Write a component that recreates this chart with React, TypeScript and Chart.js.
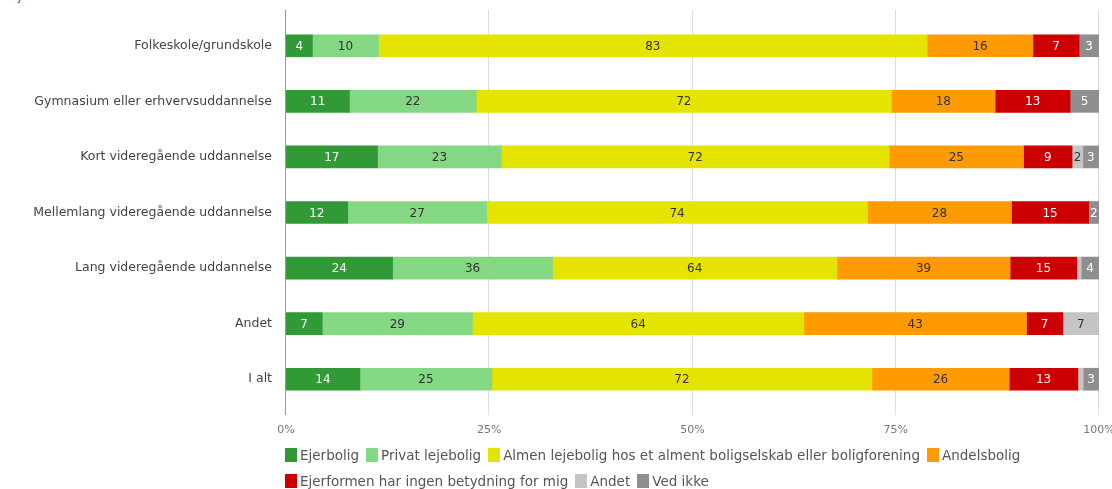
import React, { useEffect, useRef } from "react";
import { Chart, registerables } from "chart.js";

Chart.register(...registerables);

const categories = [
  "Folkeskole/grundskole",
  "Gymnasium eller erhvervsuddannelse",
  "Kort videregående uddannelse",
  "Mellemlang videregående uddannelse",
  "Lang videregående uddannelse",
  "Andet",
  "I alt",
];

const seriesNames = [
  "Ejerbolig",
  "Privat lejebolig",
  "Almen lejebolig hos et alment boligselskab eller boligforening",
  "Andelsbolig",
  "Ejerformen har ingen betydning for mig",
  "Andet",
  "Ved ikke",
];

const ejerbolig = [4, 11, 17, 12, 24, 7, 14];
const privatLejebolig = [10, 22, 23, 27, 36, 29, 25];
const almenLejebolig = [83, 72, 72, 74, 64, 64, 72];
const andelsbolig = [16, 18, 25, 28, 39, 43, 26];
const ingenBetydning = [7, 13, 9, 15, 15, 7, 13];
const andet = [0, 0, 2, 0, 1, 7, 1];
const vedIkke = [3, 5, 3, 2, 4, 0, 3];

const xTicks = ["0%", "25%", "50%", "75%", "100%"];

const colors = ["#319a37", "#84d884", "#e5e400", "#ff9a00", "#cc0000", "#c4c4c4", "#8e8e8e"];
const labelColors = ["#ffffff", "#333333", "#333333", "#333333", "#ffffff", "#333333", "#ffffff"];

const allSeries = [ejerbolig, privatLejebolig, almenLejebolig, andelsbolig, ingenBetydning, andet, vedIkke];

const FONT = "'DejaVu Sans', Verdana, sans-serif";

const gridPlugin = {
  id: "extGrid",
  beforeDatasetsDraw(chart: any) {
    const { ctx, chartArea, scales } = chart;
    const xs = scales.x;
    ctx.save();
    [0, 25, 50, 75, 100].forEach((v) => {
      const x = Math.round(xs.getPixelForValue(v)) - 0.5;
      ctx.strokeStyle = v === 0 ? "#9a9a9a" : "#dddddd";
      ctx.lineWidth = 1;
      ctx.beginPath();
      ctx.moveTo(x, chartArea.top - 8);
      ctx.lineTo(x, chartArea.bottom + 8);
      ctx.stroke();
    });
    ctx.restore();
  },
};

const labelPlugin = {
  id: "segLabels",
  afterDatasetsDraw(chart: any) {
    const { ctx } = chart;
    ctx.save();
    ctx.font = "12px " + FONT;
    ctx.textAlign = "center";
    ctx.textBaseline = "middle";
    chart.data.datasets.forEach((ds: any, di: number) => {
      const meta = chart.getDatasetMeta(di);
      meta.data.forEach((bar: any, i: number) => {
        const raw = allSeries[di][i];
        if (!raw) return;
        const w = Math.abs(bar.x - bar.base);
        if (w < 8) return;
        ctx.fillStyle = labelColors[di];
        ctx.fillText(String(raw), (bar.x + bar.base) / 2, bar.y + 1);
      });
    });
    ctx.restore();
  },
};

export default function App() {
  const ref = useRef<HTMLCanvasElement | null>(null);

  useEffect(() => {
    if (!ref.current) return;
    const totals = categories.map((_, i) => allSeries.reduce((s, arr) => s + arr[i], 0));
    const chart = new Chart(ref.current, {
      type: "bar",
      data: {
        labels: categories,
        datasets: allSeries.map((arr, di) => ({
          label: seriesNames[di],
          data: arr.map((v, i) => (v / totals[i]) * 100),
          backgroundColor: colors[di],
          borderWidth: 0,
          barThickness: 22,
        })),
      },
      options: {
        indexAxis: "y",
        animation: false,
        responsive: false,
        maintainAspectRatio: false,
        layout: { padding: { top: 18, right: 13, bottom: 52, left: 0 } },
        plugins: {
          legend: { display: false },
          tooltip: { enabled: false },
        },
        scales: {
          x: {
            stacked: true,
            min: 0,
            max: 100,
            border: { display: false },
            grid: { display: false, drawTicks: false },
            afterFit: (s: any) => {
              s.height = 30;
              s.paddingLeft = 0;
              s.paddingRight = 0;
            },
            ticks: {
              stepSize: 25,
              padding: 17,
              color: "#777777",
              font: { family: FONT, size: 11 },
              callback: (v: any) => xTicks[Math.round(Number(v) / 25)],
            },
          },
          y: {
            stacked: true,
            border: { display: false },
            grid: { display: false, drawTicks: false },
            afterFit: (s: any) => {
              s.width = 286;
              s.paddingTop = 0;
              s.paddingBottom = 0;
            },
            ticks: {
              padding: 14,
              color: "#444444",
              font: { family: FONT, size: 12.5 },
            },
          },
        },
      },
      plugins: [gridPlugin, labelPlugin],
    });
    return () => chart.destroy();
  }, []);

  const legendRow = (idx: number[]) => (
    <div style={{ display: "flex", alignItems: "center", height: 26 }}>
      {idx.map((i) => (
        <div key={i} style={{ display: "flex", alignItems: "center", marginRight: 7 }}>
          <span
            style={{
              display: "inline-block",
              width: 12,
              height: 14,
              background: colors[i],
              marginRight: 3,
            }}
          />
          <span style={{ fontSize: 13.5, color: "#555555", fontFamily: FONT, whiteSpace: "nowrap" }}>
            {seriesNames[i]}
          </span>
        </div>
      ))}
    </div>
  );

  return (
    <div style={{ position: "absolute", left: 0, top: 0, width: 1112, height: 489, overflow: "hidden", background: "#fff" }}>
      <div
        style={{
          position: "absolute",
          left: 0,
          top: -12,
          fontFamily: FONT,
          fontSize: 13,
          color: "#666",
          whiteSpace: "nowrap",
        }}
      >
        Højeste uddannelsesniveau
      </div>
      <canvas ref={ref} width={1112} height={489} style={{ position: "absolute", left: 0, top: 0 }} />
      <div style={{ position: "absolute", left: 285, top: 442 }}>
        {legendRow([0, 1, 2, 3])}
        {legendRow([4, 5, 6])}
      </div>
    </div>
  );
}
